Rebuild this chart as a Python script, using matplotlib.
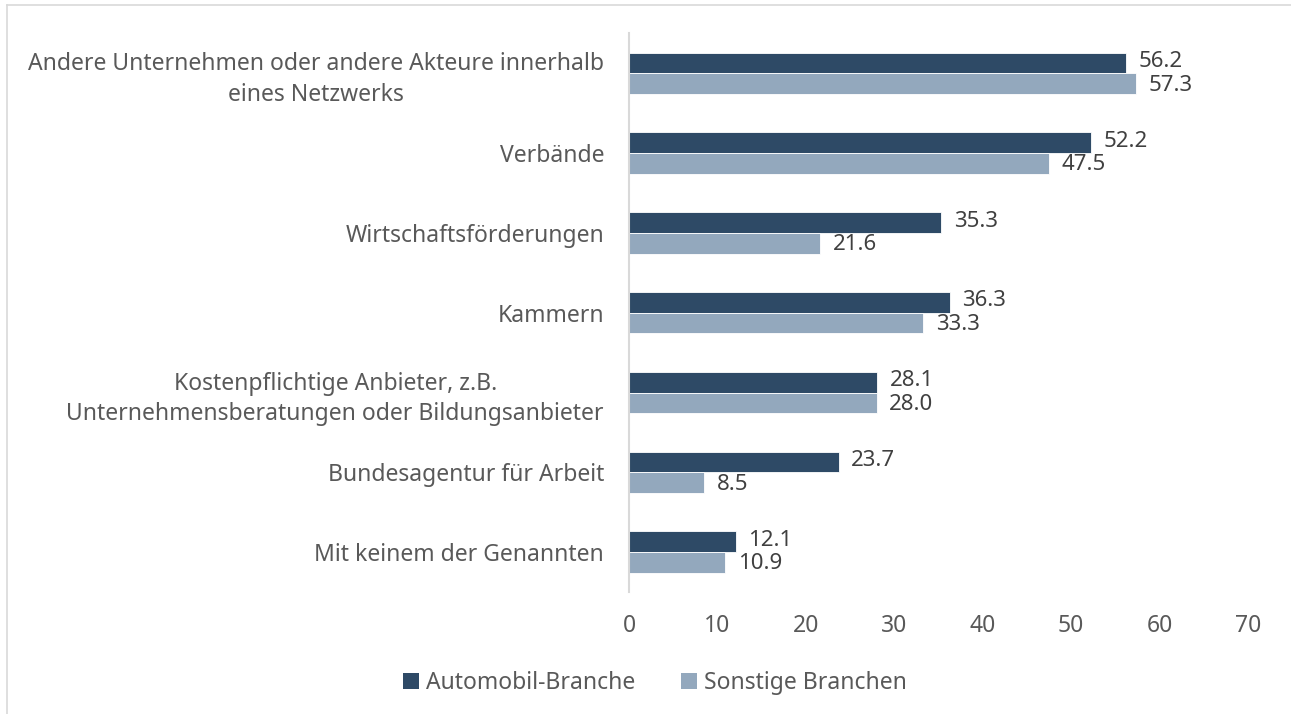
import matplotlib
matplotlib.use("Agg")
import matplotlib.pyplot as plt
from matplotlib.lines import Line2D
from matplotlib.patches import Patch

categories = [
    "Andere Unternehmen oder andere Akteure innerhalb\neines Netzwerks",
    "Verbände",
    "Wirtschaftsförderungen",
    "Kammern",
    "Kostenpflichtige Anbieter, z.B.\nUnternehmensberatungen oder Bildungsanbieter",
    "Bundesagentur für Arbeit",
    "Mit keinem der Genannten",
]
auto = [56.2, 52.2, 35.3, 36.3, 28.1, 23.7, 12.1]
sonstige = [57.3, 47.5, 21.6, 33.3, 28.0, 8.5, 10.9]
series_names = ["Automobil-Branche", "Sonstige Branchen"]
xticks = [0, 10, 20, 30, 40, 50, 60, 70]

c_dark = "#2E4A66"
c_light = "#93A8BD"
txt = "#595959"
valtxt = "#404040"
fs = 16.5

plt.rcParams['font.family'] = ['Noto Sans', 'DejaVu Sans']

fig = plt.figure(figsize=(12.91, 7.14), dpi=100)
ax = fig.add_axes([629/1291, 1-592/714, (1248-629)/1291, (592-33.4)/714])

h = 0.26
ys = list(range(len(categories)))
b1 = ax.barh([y - h/2 for y in ys], auto, height=h, color=c_dark, edgecolor="white", linewidth=0.6)
b2 = ax.barh([y + h/2 for y in ys], sonstige, height=h, color=c_light, edgecolor="white", linewidth=0.6)

for rect, v in zip(b1, auto):
    ax.annotate(f"{v:.1f}", (rect.get_width(), rect.get_y() + rect.get_height()/2),
                xytext=(9, 1), textcoords="offset points", va="center", ha="left",
                fontsize=16, color=valtxt)
for rect, v in zip(b2, sonstige):
    ax.annotate(f"{v:.1f}", (rect.get_width(), rect.get_y() + rect.get_height()/2),
                xytext=(9, -1), textcoords="offset points", va="center", ha="left",
                fontsize=16, color=valtxt)

ax.set_xlim(0, 70)
ax.set_ylim(len(categories) - 0.5, -0.5)
ax.set_xticks(xticks)
ax.set_xticklabels([str(t) for t in xticks])
ax.set_yticks(ys)
ax.set_yticklabels(categories, multialignment="center", linespacing=1.35)
ax.tick_params(axis="y", length=0, pad=18, labelsize=fs, labelcolor=txt)
ax.tick_params(axis="x", length=0, pad=16, labelsize=fs, labelcolor=txt)
for s in ["top", "right", "bottom"]:
    ax.spines[s].set_visible(False)
ax.spines["left"].set_color("#D9D9D9")
ax.spines["left"].set_linewidth(1.5)

handles = [Patch(facecolor=c_dark), Patch(facecolor=c_light)]
fig.legend(handles, series_names, loc="center", bbox_to_anchor=(0.507, 0.043), ncol=2,
           frameon=False, fontsize=fs, labelcolor=txt, handlelength=0.7, handleheight=0.7,
           handletextpad=0.3, columnspacing=2.0)

fig.add_artist(Line2D([6.5/1291, 1], [1-4.5/714, 1-4.5/714], color="#D9D9D9", linewidth=1.2, transform=fig.transFigure))
fig.add_artist(Line2D([6.5/1291, 6.5/1291], [0, 1-4.5/714], color="#D9D9D9", linewidth=1.2, transform=fig.transFigure))

fig.savefig("out.png", dpi=100, facecolor="white")
